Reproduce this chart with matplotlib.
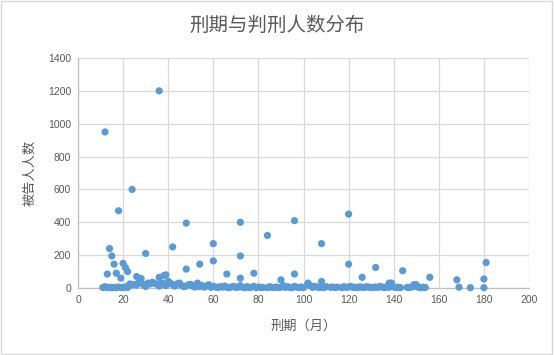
import matplotlib
matplotlib.use("Agg")
import matplotlib.pyplot as plt
from matplotlib.patches import Rectangle

plt.rcParams['font.family'] = ['Liberation Sans', 'Noto Sans CJK SC', 'DejaVu Sans']

# sentence length (months) vs number of defendants
# larger counts
high_months = [12, 36, 24, 18, 48, 96, 72, 120, 84, 60, 108, 42, 14, 30, 15, 72,
               60, 20, 16, 54, 120, 21, 132, 181, 48, 22, 144, 78, 13, 17, 96, 39,
               38, 26, 66, 36, 126, 156, 19, 72, 28, 180, 90, 168, 108, 138, 102,
               150, 169, 174, 180]
high_counts = [950, 1200, 600, 470, 395, 410, 400, 450, 320, 270, 270, 250, 240, 210,
               195, 195, 165, 150, 145, 145, 145, 125, 125, 155, 115, 100, 105, 90,
               85, 90, 85, 80, 75, 70, 85, 65, 65, 65, 60, 60, 58, 55, 50, 50, 40,
               30, 25, 20, 5, 2, 2]

# the crowded row near zero
low_months = [11, 12, 13, 14, 15, 16, 17, 18, 19, 20, 21, 22, 23, 24, 25, 26, 27, 28,
              29, 30, 31, 32, 33, 34, 35, 36, 37, 38, 39, 40, 41, 42, 43, 44, 45, 46,
              47, 48, 49, 50, 51, 52, 53, 54, 55, 56, 57, 58, 59, 60, 61, 62, 63, 64,
              65, 66, 67, 68, 69, 70, 71, 72, 73, 74, 75, 76, 77, 78, 79, 80, 81, 82,
              84, 85, 86, 87, 88, 89, 90, 91, 92, 93, 94, 95, 96, 97, 98, 99, 100,
              102, 103, 104, 105, 106, 107, 108, 109, 110, 112, 113, 114, 115, 117,
              118, 119, 120, 121, 122, 123, 124, 125, 126, 127, 128, 129, 130, 131,
              132, 133, 134, 135, 136, 137, 138, 139, 140, 141, 142, 143, 146, 147,
              148, 149, 150, 151, 152, 153, 154]
low_counts = [3, 8, 2, 5, 1, 4, 2, 6, 3, 2, 7, 3, 25, 20, 22, 18, 35, 30, 20, 10,
              30, 25, 35, 28, 22, 12, 30, 25, 15, 40, 30, 20, 12, 25, 30, 15, 8,
              12, 20, 22, 10, 6, 30, 8, 15, 5, 12, 20, 4, 10, 6, 3, 8, 5, 12, 4, 2,
              6, 10, 3, 5, 15, 4, 2, 8, 3, 5, 10, 2, 6, 4, 3, 2, 8, 4, 3, 6, 2, 5,
              15, 4, 8, 3, 2, 10, 5, 3, 6, 2, 30, 15, 4, 10, 6, 3, 5, 2, 8, 4, 6, 3,
              5, 2, 8, 4, 6, 10, 3, 5, 2, 7, 4, 3, 8, 5, 2, 4, 6, 3, 10, 5, 2, 8, 4,
              30, 6, 3, 5, 2, 4, 3, 6, 20, 10, 4, 2, 5, 3]

months = high_months + low_months
counts = high_counts + low_counts

text_color = '#595959'
grid_color = '#d9d9d9'

fig = plt.figure(figsize=(5.54, 3.55), dpi=100)
ax = fig.add_axes([78 / 554, 1 - 288 / 355, 451 / 554, 230 / 355])

ax.scatter(months, counts, s=27, color='#5b9bd5', edgecolors='none', zorder=3, clip_on=False)

ax.set_xlim(0, 200)
ax.set_ylim(0, 1400)
ax.set_xticks(range(0, 201, 20))
ax.set_yticks(range(0, 1401, 200))
ax.grid(True, color=grid_color, linewidth=0.9)
ax.set_axisbelow(True)
ax.tick_params(length=0, labelsize=7.5, labelcolor=text_color, pad=5)
for side in ['top', 'right']:
    ax.spines[side].set_visible(False)
for side in ['left', 'bottom']:
    ax.spines[side].set_color('#bfbfbf')
    ax.spines[side].set_linewidth(0.9)

ax.set_xlabel('刑期（月）', fontsize=9.5, color=text_color, labelpad=11)
ax.set_ylabel('被告人人数', fontsize=9.5, color=text_color, labelpad=8)
fig.suptitle('刑期与判刑人数分布', fontsize=14, color=text_color, y=0.955)

# light chart border like the original
fig.patches.append(Rectangle((0.002, 0.003), 0.995, 0.994, transform=fig.transFigure,
                             fill=False, edgecolor=grid_color, linewidth=1))

fig.savefig('out.png', dpi=100)
